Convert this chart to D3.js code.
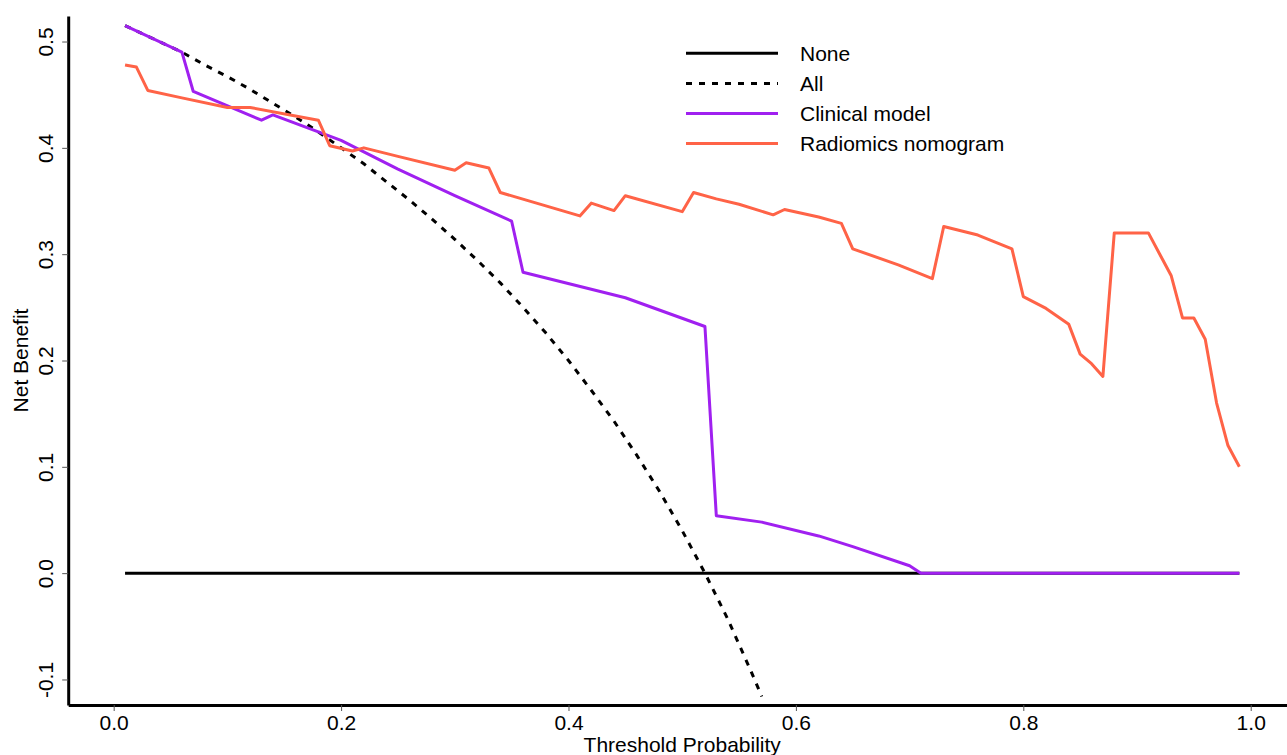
<!DOCTYPE html>
<html>
<head>
<meta charset="utf-8">
<script src="https://cdn.jsdelivr.net/npm/d3@7"></script>
<style>
  body { margin: 0; background: #fff; }
  svg text { font-family: "Liberation Sans", Arial, sans-serif; fill: #000; }
</style>
</head>
<body>
<div id="chart"></div>
<script>
// decision curve values
var seriesNames = ["None", "All", "Clinical model", "Radiomics nomogram"];

var noneT = [0.01, 0.99];
var noneV = [0, 0];

var allT = [0.01, 0.06, 0.08, 0.10, 0.12, 0.14, 0.16, 0.18, 0.20, 0.22, 0.24, 0.26, 0.28, 0.30,
            0.32, 0.34, 0.36, 0.38, 0.40, 0.42, 0.44, 0.46, 0.48, 0.50, 0.52, 0.54, 0.56, 0.57];
var allV = [0.515, 0.490, 0.478, 0.467, 0.455, 0.442, 0.429, 0.415, 0.400, 0.385, 0.368, 0.351, 0.333, 0.314,
            0.294, 0.273, 0.250, 0.226, 0.200, 0.172, 0.143, 0.111, 0.077, 0.040, 0.000, -0.043, -0.091, -0.116];

var clinT = [0.01, 0.06, 0.07, 0.13, 0.14, 0.20, 0.25, 0.30, 0.35, 0.36, 0.45, 0.52, 0.53,
             0.57, 0.62, 0.65, 0.70, 0.71, 0.99];
var clinV = [0.515, 0.490, 0.453, 0.426, 0.431, 0.407, 0.380, 0.355, 0.331, 0.283, 0.259, 0.232, 0.054,
             0.048, 0.035, 0.025, 0.007, 0.000, 0.000];

var radT = [0.01, 0.02, 0.03, 0.06, 0.10, 0.12, 0.18, 0.19, 0.21, 0.22, 0.25, 0.30, 0.31, 0.33, 0.34,
            0.41, 0.42, 0.44, 0.45, 0.50, 0.51, 0.53, 0.55, 0.58, 0.59, 0.62, 0.64, 0.65, 0.69, 0.72,
            0.73, 0.76, 0.79, 0.80, 0.82, 0.84, 0.85, 0.86, 0.87, 0.88, 0.91, 0.92, 0.93, 0.94, 0.95,
            0.96, 0.97, 0.98, 0.99];
var radV = [0.478, 0.476, 0.454, 0.447, 0.438, 0.438, 0.426, 0.402, 0.397, 0.400, 0.392, 0.379, 0.386, 0.381, 0.358,
            0.336, 0.348, 0.341, 0.355, 0.340, 0.358, 0.352, 0.347, 0.337, 0.342, 0.335, 0.329, 0.305, 0.290, 0.277,
            0.326, 0.318, 0.305, 0.260, 0.249, 0.234, 0.206, 0.197, 0.185, 0.320, 0.320, 0.300, 0.280, 0.240, 0.240,
            0.220, 0.160, 0.120, 0.100];

var xTicks = [0, 0.2, 0.4, 0.6, 0.8, 1.0];
var yTicks = [-0.1, 0, 0.1, 0.2, 0.3, 0.4, 0.5];

var width = 1287, height = 755;

var svg = d3.select("#chart").append("svg")
    .attr("width", width)
    .attr("height", height);

// R style plot region (usr extends 4% past the limits)
var x = d3.scaleLinear().domain([-0.04, 1.04]).range([68.2, 1296.2]);
var y = d3.scaleLinear().domain([-0.124, 0.524]).range([705, 16]);

function pts(ts, vs) {
    return ts.map(function (t, i) { return [t, vs[i]]; });
}

var line = d3.line()
    .x(d => x(d[0]))
    .y(d => y(d[1]));

svg.append("clipPath").attr("id", "plotclip")
    .append("rect")
    .attr("x", x.range()[0]).attr("y", y.range()[1])
    .attr("width", x.range()[1] - x.range()[0])
    .attr("height", y.range()[0] - y.range()[1]);

var plot = svg.append("g").attr("clip-path", "url(#plotclip)");

var styles = [
    {data: pts(noneT, noneV), color: "#000000", dash: null},
    {data: pts(allT, allV), color: "#000000", dash: "6,7"},
    {data: pts(clinT, clinV), color: "#A020F0", dash: null},
    {data: pts(radT, radV), color: "#FF6347", dash: null}
];

styles.forEach(function (s) {
    plot.append("path")
        .datum(s.data)
        .attr("fill", "none")
        .attr("stroke", s.color)
        .attr("stroke-width", 3)
        .attr("stroke-linejoin", "round")
        .attr("stroke-dasharray", s.dash)
        .attr("d", line);
});

// axes
var fmt = d => d.toFixed(1);
var xAxis = svg.append("g")
    .attr("transform", "translate(0," + y.range()[0] + ")")
    .call(d3.axisBottom(x).tickValues(xTicks).tickFormat(fmt).tickSize(6).tickSizeOuter(0));
var yAxis = svg.append("g")
    .attr("transform", "translate(" + x.range()[0] + ",0)")
    .call(d3.axisLeft(y).tickValues(yTicks).tickFormat(fmt).tickSize(6).tickSizeOuter(0));

[xAxis, yAxis].forEach(function (a) {
    a.select(".domain").attr("stroke", "#000").attr("stroke-width", 3);
    a.selectAll(".tick line").attr("stroke", "#555").attr("stroke-width", 1);
    a.selectAll(".tick text").attr("font-size", 21).attr("font-family", "Liberation Sans, Arial, sans-serif");
});
xAxis.selectAll(".tick text").attr("y", 10).attr("dy", "0.71em");
yAxis.selectAll(".tick text")
    .attr("x", null)
    .attr("text-anchor", "middle")
    .attr("transform", "translate(-23,0) rotate(-90)")
    .attr("y", 0).attr("dy", "0.36em");

// axis titles
svg.append("text")
    .attr("x", (x.range()[0] + x.range()[1]) / 2)
    .attr("y", 752)
    .attr("text-anchor", "middle")
    .attr("font-size", 21)
    .text("Threshold Probability");

svg.append("text")
    .attr("transform", "translate(28," + (y.range()[0] + y.range()[1]) / 2 + ") rotate(-90)")
    .attr("text-anchor", "middle")
    .attr("font-size", 21)
    .text("Net Benefit");

// legend
var legend = svg.append("g");
seriesNames.forEach(function (name, i) {
    var ly = 53.3 + i * 30.1;
    legend.append("line")
        .attr("x1", 686).attr("x2", 778)
        .attr("y1", ly).attr("y2", ly)
        .attr("stroke", styles[i].color)
        .attr("stroke-width", 3)
        .attr("stroke-dasharray", styles[i].dash);
    legend.append("text")
        .attr("x", 800).attr("y", ly + 7.5)
        .attr("font-size", 21)
        .text(name);
});
</script>
</body>
</html>
